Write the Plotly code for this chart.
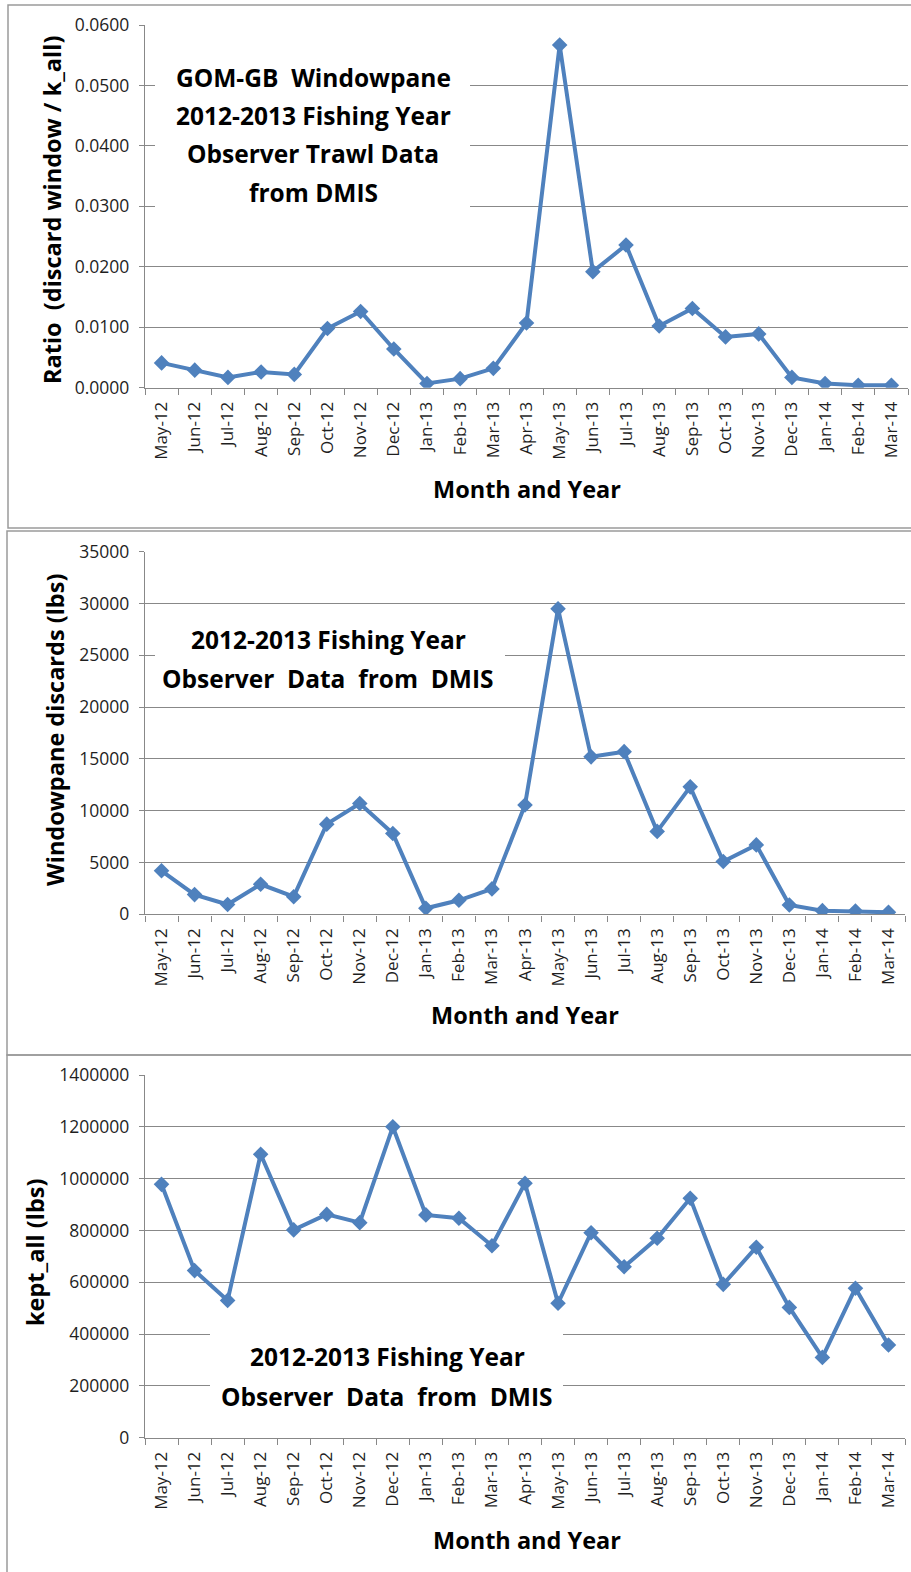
import plotly.graph_objects as go

W, H = 911, 1572

months = ["May-12", "Jun-12", "Jul-12", "Aug-12", "Sep-12", "Oct-12", "Nov-12", "Dec-12",
          "Jan-13", "Feb-13", "Mar-13", "Apr-13", "May-13", "Jun-13", "Jul-13", "Aug-13",
          "Sep-13", "Oct-13", "Nov-13", "Dec-13", "Jan-14", "Feb-14", "Mar-14"]

ratio = [0.0041, 0.0029, 0.0017, 0.0026, 0.0022, 0.0098, 0.0126, 0.0064,
         0.0007, 0.0015, 0.0032, 0.0107, 0.0567, 0.0192, 0.0236, 0.0102,
         0.0131, 0.0084, 0.0089, 0.0017, 0.0007, 0.0004, 0.0004]

discards = [4200, 1900, 950, 2900, 1700, 8700, 10700, 7800,
            580, 1350, 2450, 10550, 29500, 15200, 15700, 8000,
            12300, 5100, 6700, 900, 350, 320, 200]

kept = [978000, 645000, 530000, 1094000, 802000, 862000, 830000, 1200000,
        860000, 847000, 741000, 982000, 519000, 791000, 660000, 770000,
        924000, 592000, 735000, 503000, 310000, 577000, 358000]

y_titles = ["Ratio  (discard window / k_all)", "Windowpane discards (lbs)", "kept_all (lbs)"]
x_title = "Month and Year"
box_texts = [
    ["GOM-GB  Windowpane", "2012-2013 Fishing Year", "Observer Trawl Data", "from DMIS"],
    ["2012-2013 Fishing Year", "Observer  Data  from  DMIS"],
    ["2012-2013 Fishing Year", "Observer  Data  from  DMIS"],
]

series = [ratio, discards, kept]
yranges = [(0, 0.06), (0, 35000), (0, 1400000)]
dticks = [0.01, 5000, 200000]
tformats = [".4f", "d", "d"]

# pixel layout of each panel
panels = [
    dict(x0=145, x1=908, top=25, bottom=387.7, border=(8, 920, 5, 528),
         ytx=52, yty=210, xtx=527, xty=489,
         box=(155, 470, 26, 265), lines_x=313, lines_y=[76, 114, 153, 192]),
    dict(x0=145, x1=905, top=551.7, bottom=914.3, border=(7, 920, 531, 1055),
         ytx=55, yty=730, xtx=525, xty=1015,
         box=(155, 505, 605, 705), lines_x=328, lines_y=[638, 677]),
    dict(x0=145, x1=905, top=1075, bottom=1437.7, border=(7, 920, 1055, 1600),
         ytx=35, yty=1252, xtx=527, xty=1540,
         box=(210, 563, 1313, 1425), lines_x=387, lines_y=[1355, 1395]),
]

FONT = "Open Sans"
GRID = "#888888"
BLUE = "#4F81BD"
TXT = "#1f1f1f"

def fx(p):
    return p / W

def fy(p):
    return 1 - p / H

fig = go.Figure()
layout = dict(template="none", width=W, height=H, margin=dict(l=0, r=0, t=0, b=0, pad=0),
              autosize=False, paper_bgcolor="white", plot_bgcolor="white", showlegend=False,
              font=dict(family=FONT, color=TXT))
shapes = []
annotations = []

n = len(months)
for i, (vals, pn) in enumerate(zip(series, panels)):
    sfx = "" if i == 0 else str(i + 1)
    fig.add_trace(go.Scatter(
        x=months, y=vals, xaxis="x" + sfx, yaxis="y" + sfx,
        mode="lines+markers",
        line=dict(color=BLUE, width=4),
        marker=dict(symbol="diamond", size=12, color=BLUE, line=dict(width=0)),
        hoverinfo="skip"))
    layout["xaxis" + sfx] = dict(
        domain=[fx(pn["x0"]), fx(pn["x1"])], anchor="y" + sfx, type="category",
        categoryorder="array", categoryarray=months, automargin=False,
        range=[-0.5, n - 0.5], autorange=False,
        showgrid=False, showline=True, linecolor=GRID, linewidth=1.4,
        ticks="outside", ticklen=6, tickcolor=GRID, tickwidth=1.4, tickson="boundaries",
        tickangle=-90, tickfont=dict(family=FONT, size=17, color=TXT),
        ticklabelstandoff=6, zeroline=False, fixedrange=True)
    layout["yaxis" + sfx] = dict(
        domain=[fy(pn["bottom"]), fy(pn["top"])], anchor="x" + sfx, automargin=False,
        range=list(yranges[i]), autorange=False, dtick=dticks[i], tick0=0,
        tickformat=tformats[i],
        showgrid=True, gridcolor=GRID, gridwidth=1.4,
        showline=True, linecolor=GRID, linewidth=1.4, zeroline=False,
        ticks="outside", ticklen=5, tickcolor=GRID, tickwidth=1.4,
        tickfont=dict(family=FONT, size=17.5, color=TXT),
        ticklabelstandoff=6, fixedrange=True)

    # panel border
    bx0, bx1, by0, by1 = pn["border"]
    shapes.append(dict(type="rect", xref="paper", yref="paper",
                       x0=fx(bx0), x1=fx(bx1), y0=fy(by1), y1=fy(by0),
                       line=dict(color="#9a9a9a", width=1.5), fillcolor="rgba(0,0,0,0)",
                       layer="above"))

    # white text box hiding gridlines (between grid and traces)
    cx0, cx1, cy0, cy1 = pn["box"]
    span = pn["x1"] - pn["x0"]
    ymax = yranges[i][1]
    hgt = pn["bottom"] - pn["top"]
    def to_cat(p):
        return (p - pn["x0"]) / span * n - 0.5
    def to_val(p):
        return (pn["bottom"] - p) / hgt * ymax
    shapes.append(dict(type="rect", xref="x" + sfx, yref="y" + sfx,
                       x0=to_cat(cx0), x1=to_cat(cx1), y0=to_val(cy1), y1=to_val(cy0),
                       line=dict(width=0), fillcolor="white", layer="between"))

    for txt, ly in zip(box_texts[i], pn["lines_y"]):
        annotations.append(dict(text="<b>" + txt + "</b>", xref="paper", yref="paper",
                                x=fx(pn["lines_x"]), y=fy(ly + 1), xanchor="center",
                                yanchor="middle", showarrow=False,
                                font=dict(family=FONT, size=24.5, color="#000000")))

    annotations.append(dict(text="<b>" + y_titles[i] + "</b>", xref="paper", yref="paper",
                            x=fx(pn["ytx"]), y=fy(pn["yty"]), xanchor="center",
                            yanchor="middle", textangle=-90, showarrow=False,
                            font=dict(family=FONT, size=23.5, color="#000000")))
    annotations.append(dict(text="<b>" + x_title + "</b>", xref="paper", yref="paper",
                            x=fx(pn["xtx"]), y=fy(pn["xty"]), xanchor="center",
                            yanchor="middle", showarrow=False,
                            font=dict(family=FONT, size=23.5, color="#000000")))

layout["shapes"] = shapes
layout["annotations"] = annotations
fig.update_layout(**layout)

fig.write_html("out.html")
